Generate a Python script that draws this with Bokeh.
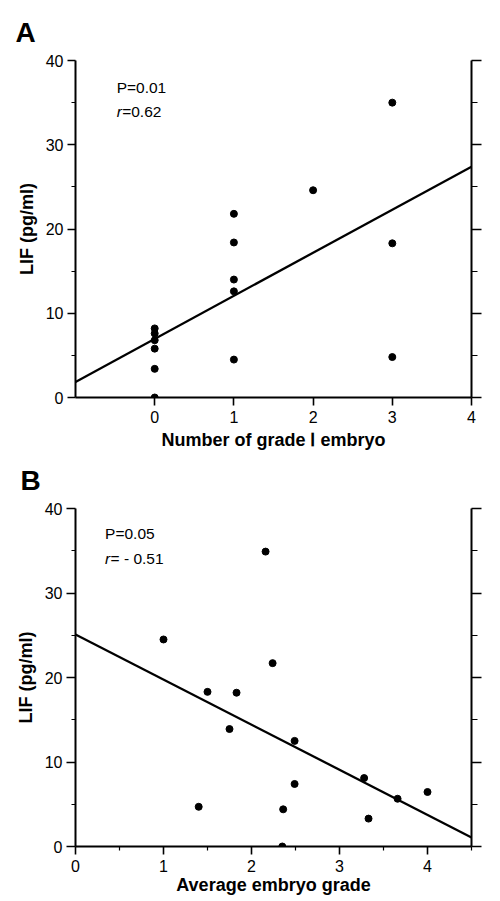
from bokeh.plotting import figure
from bokeh.models import LinearAxis, FixedTicker, Label, Range1d
from bokeh.layouts import column
from bokeh.embed import file_html
from bokeh.resources import INLINE

# ---------------- data ----------------
# Panel A: LIF vs number of grade I embryos
a_grade1_count = [0, 0, 0, 0, 0, 0, 1, 1, 1, 1, 1, 2, 3, 3, 3]
a_lif = [8.2, 7.6, 6.8, 5.8, 3.4, 0.0, 21.8, 18.4, 14.0, 12.6, 4.5, 24.6, 35.0, 18.3, 4.8]
a_fit_x = [-1, 4]
a_fit_y = [1.85, 27.4]
a_x_ticks = [0, 1, 2, 3, 4]

# Panel B: LIF vs average embryo grade
b_avg_grade = [2.16, 2.24, 1.0, 1.5, 1.83, 1.75, 1.40, 2.49, 2.49, 2.36, 2.35, 3.28, 3.33, 3.66, 4.0]
b_lif = [34.9, 21.7, 24.5, 18.3, 18.2, 13.9, 4.7, 12.5, 7.4, 4.4, 0.0, 8.1, 3.3, 5.65, 6.45]
b_fit_x = [0, 4.5]
b_fit_y = [25.1, 1.07]
b_x_ticks = [0, 1, 2, 3, 4]
b_x_minor = [0.5, 1.5, 2.5, 3.5, 4.5]

y_ticks = [0, 10, 20, 30, 40]
y_minor = [5, 15, 25, 35]

FONT = "Liberation Sans"


def style_axis(ax, tick_out, minor_out, label_standoff, axis_standoff):
    ax.axis_line_width = 2
    ax.axis_line_color = "black"
    ax.major_tick_line_width = 1.6
    ax.major_tick_line_color = "black"
    ax.minor_tick_line_width = 1.2
    ax.minor_tick_line_color = "black"
    ax.major_tick_in = 0
    ax.major_tick_out = tick_out
    ax.minor_tick_in = 0
    ax.minor_tick_out = minor_out
    ax.major_label_text_font = FONT
    ax.major_label_text_font_size = "16px"
    ax.major_label_text_color = "black"
    ax.major_label_standoff = label_standoff
    ax.axis_label_text_font = FONT
    ax.axis_label_text_font_style = "bold"
    ax.axis_label_text_font_size = "18px"
    ax.axis_label_text_color = "black"
    ax.axis_label_standoff = axis_standoff


def make_panel(letter, xr, height, borders, xticks, xminor, xlabel, tick_out_left,
               title_offset, title_standoff, xlabel_standoff):
    p = figure(width=500, height=height, output_backend="svg", toolbar_location=None,
               x_range=Range1d(*xr), y_range=Range1d(0, 40), title=letter,
               min_border_left=borders[0], min_border_right=borders[1],
               min_border_top=borders[2], min_border_bottom=borders[3])
    p.outline_line_color = None
    p.xgrid.visible = False
    p.ygrid.visible = False
    p.background_fill_color = "white"
    p.border_fill_color = "white"

    # panel letter
    p.title.text_font = FONT
    p.title.text_font_style = "bold"
    p.title.text_font_size = "28px"
    p.title.text_color = "black"
    p.title.align = "left"
    p.title.vertical_align = "top"
    p.title.offset = title_offset
    p.title.standoff = title_standoff

    p.xaxis.ticker = FixedTicker(ticks=xticks, minor_ticks=xminor)
    p.yaxis.ticker = FixedTicker(ticks=y_ticks, minor_ticks=y_minor)
    p.xaxis.axis_label = xlabel
    p.yaxis.axis_label = "LIF (pg/ml)"
    for ax in p.xaxis:
        style_axis(ax, 8, 4, 5, xlabel_standoff)
    for ax in p.yaxis:
        style_axis(ax, tick_out_left, 4, 4, 6)

    right = LinearAxis(ticker=FixedTicker(ticks=y_ticks, minor_ticks=y_minor))
    style_axis(right, 10, 6, 0, 0)
    right.major_label_text_font_size = "0px"
    right.major_label_text_alpha = 0
    p.add_layout(right, "right")
    return p


def stat_labels(p, x, y_p, y_r, ptxt, rtxt):
    p.add_layout(Label(x=x, y=y_p, text=ptxt, text_font=FONT, text_font_size="15.5px",
                       text_baseline="middle", text_align="left", text_color="black"))
    p.add_layout(Label(x=x, y=y_r, text="r", text_font=FONT, text_font_size="15.5px",
                       text_font_style="italic", text_baseline="middle",
                       text_align="left", text_color="black"))
    p.add_layout(Label(x=x, y=y_r, x_offset=5.5, text=rtxt, text_font=FONT,
                       text_font_size="15.5px", text_baseline="middle",
                       text_align="left", text_color="black"))


# ---------------- panel A ----------------
pa = make_panel("A", (-1, 4), 452, (75, 29, 60, 53), a_x_ticks, [],
                "Number of grade \u2160 embryo", 8, -60, 22, 4)
pa.line(a_fit_x, a_fit_y, line_width=2.3, line_color="black")
pa.scatter(a_grade1_count, a_lif, size=7, color="black")
stat_labels(pa, -0.48, 36.8, 33.9, "P=0.01", "=0.62")

# ---------------- panel B ----------------
pb = make_panel("B", (0, 4.5), 449, (52, 10, 56, 55), b_x_ticks, b_x_minor,
                "Average embryo grade", 9, -55, 22, 0)
pb.line(b_fit_x, b_fit_y, line_width=2.3, line_color="black")
pb.scatter(b_avg_grade, b_lif, size=7, color="black")
stat_labels(pb, 0.336, 37.07, 34.1, "P=0.05", "= - 0.51")

layout = column(pa, pb, spacing=0)
open("out.html", "w").write(file_html(layout, INLINE))
